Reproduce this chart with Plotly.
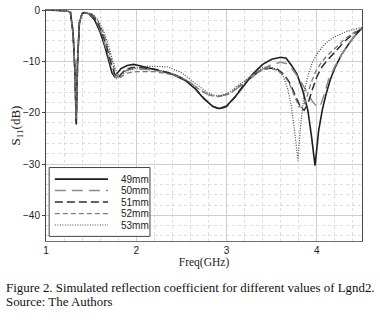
import plotly.graph_objects as go

# Lgnd2 values and simulated S11 curves
labels = ["49mm", "50mm", "51mm", "52mm", "53mm"]

f_49 = [1.0, 1.15, 1.22, 1.27, 1.30, 1.32, 1.335, 1.35, 1.37, 1.40, 1.43, 1.48, 1.54, 1.60, 1.65, 1.70, 1.73, 1.76,
        1.79, 1.83, 1.90, 1.97, 2.05, 2.2, 2.4, 2.55, 2.65, 2.75, 2.85, 2.92, 3.0, 3.1, 3.2, 3.3, 3.4, 3.5, 3.6,
        3.66, 3.72, 3.78, 3.84, 3.90, 3.94, 3.98, 4.02, 4.06, 4.10, 4.15, 4.20, 4.27, 4.35, 4.42, 4.5]
s_49 = [0.0, -0.05, -0.15, -0.4, -4.5, -12.0, -22.3, -10.0, -2.5, -0.7, -0.5, -0.8, -2.0, -4.3, -7.0, -10.2, -12.2, -13.0,
        -12.4, -11.4, -10.8, -10.6, -10.9, -11.6, -12.5, -13.8, -15.3, -17.3, -18.8, -19.2, -18.7, -16.8, -14.5, -12.3, -10.6, -9.6, -9.2,
        -9.4, -10.8, -12.5, -15.5, -19.5, -24.5, -30.3, -23.5, -19.5, -16.5, -13.5, -11.3, -8.8, -6.7, -5.0, -3.6]

f_50 = [1.0, 1.15, 1.22, 1.27, 1.30, 1.32, 1.335, 1.35, 1.37, 1.40, 1.43, 1.49, 1.55, 1.61, 1.66, 1.71, 1.75, 1.78,
        1.81, 1.86, 1.93, 2.0, 2.2, 2.4, 2.55, 2.7, 2.8, 2.88, 2.95, 3.05, 3.2, 3.3, 3.4, 3.5, 3.6, 3.66, 3.72,
        3.8, 3.88, 3.95, 4.0, 4.04, 4.08, 4.13, 4.2, 4.27, 4.35, 4.42, 4.5]
s_50 = [0.0, -0.05, -0.15, -0.4, -4.3, -11.5, -21.0, -9.5, -2.4, -0.7, -0.5, -0.8, -2.0, -4.2, -6.9, -10.0, -12.3, -13.3,
        -12.6, -11.9, -11.6, -11.5, -11.7, -12.4, -13.5, -15.5, -16.5, -16.8, -16.7, -16.1, -14.2, -12.8, -11.5, -10.6, -10.2, -10.4, -11.3,
        -13.3, -15.8, -17.8, -18.8, -18.6, -16.5, -13.5, -11.0, -8.8, -6.6, -5.0, -3.7]

f_51 = [1.0, 1.15, 1.22, 1.27, 1.30, 1.32, 1.335, 1.35, 1.37, 1.40, 1.43, 1.50, 1.56, 1.62, 1.67, 1.72, 1.76, 1.80,
        1.83, 1.88, 1.95, 2.02, 2.2, 2.4, 2.55, 2.65, 2.75, 2.85, 2.92, 3.0, 3.1, 3.2, 3.3, 3.4, 3.48, 3.56, 3.64,
        3.7, 3.76, 3.82, 3.86, 3.9, 3.95, 4.0, 4.06, 4.12, 4.2, 4.3, 4.4, 4.5]
s_51 = [0.0, -0.05, -0.15, -0.4, -4.4, -11.8, -21.8, -9.8, -2.5, -0.7, -0.5, -0.8, -2.0, -4.3, -7.0, -10.2, -12.4, -13.2,
        -12.5, -11.6, -11.2, -11.2, -11.5, -12.4, -13.7, -15.2, -17.2, -18.8, -19.3, -18.8, -16.8, -14.3, -12.6, -11.6, -11.3, -11.5, -12.6,
        -14.2, -16.6, -19.0, -19.5, -18.3, -15.5, -13.0, -11.0, -9.7, -8.2, -6.2, -4.7, -3.6]

f_52 = [1.0, 1.15, 1.22, 1.27, 1.30, 1.32, 1.335, 1.35, 1.37, 1.40, 1.43, 1.51, 1.57, 1.63, 1.68, 1.73, 1.77, 1.81,
        1.84, 1.9, 2.0, 2.2, 2.4, 2.55, 2.7, 2.8, 2.88, 2.95, 3.05, 3.1, 3.2, 3.3, 3.4, 3.48, 3.56, 3.64, 3.7,
        3.76, 3.8, 3.84, 3.88, 3.93, 3.98, 4.05, 4.12, 4.2, 4.3, 4.4, 4.5]
s_52 = [0.0, -0.05, -0.15, -0.4, -4.3, -11.6, -21.2, -9.6, -2.4, -0.7, -0.5, -0.8, -2.0, -4.2, -6.9, -10.0, -12.3, -13.4,
        -12.9, -12.3, -12.0, -12.0, -12.6, -13.6, -15.5, -16.5, -16.9, -16.8, -16.2, -15.3, -14.0, -12.5, -11.6, -11.4, -11.7, -12.8, -14.5,
        -17.0, -18.8, -19.0, -17.5, -14.5, -12.2, -10.2, -8.8, -7.5, -5.8, -4.5, -3.5]

f_53 = [1.0, 1.15, 1.22, 1.27, 1.30, 1.32, 1.335, 1.35, 1.37, 1.40, 1.43, 1.52, 1.58, 1.64, 1.69, 1.74, 1.78, 1.82,
        1.86, 1.93, 2.0, 2.1, 2.25, 2.35, 2.5, 2.65, 2.78, 2.88, 2.95, 3.05, 3.1, 3.2, 3.3, 3.4, 3.48, 3.56, 3.63,
        3.68, 3.72, 3.76, 3.79, 3.82, 3.86, 3.9, 3.95, 4.0, 4.06, 4.12, 4.2, 4.3, 4.4, 4.5]
s_53 = [0.0, -0.05, -0.15, -0.4, -4.2, -11.2, -20.5, -9.3, -2.3, -0.7, -0.5, -0.8, -2.0, -4.2, -6.8, -9.9, -12.1, -13.0,
        -12.3, -11.6, -11.3, -11.0, -11.0, -11.1, -12.2, -14.2, -16.0, -16.7, -16.6, -15.9, -15.0, -13.8, -12.3, -11.2, -11.0, -11.6, -13.0,
        -15.5, -19.0, -24.5, -29.3, -22.5, -16.0, -12.8, -10.2, -8.6, -7.2, -6.1, -5.2, -4.4, -3.8, -3.4]

freqs = [f_49, f_50, f_51, f_52, f_53]
s11 = [s_49, s_50, s_51, s_52, s_53]

colors = ["#1e1e1e", "#8c8c8c", "#2e2e2e", "#7a7a7a", "#4a4a4a"]
dashes = ["solid", "11px,6px", "8px,4px", "5px,3px", "1px,1.5px"]
widths = [1.6, 1.5, 1.5, 1.3, 1.2]

fig = go.Figure()
for f, s, name, c, d, w in zip(freqs, s11, labels, colors, dashes, widths):
    fig.add_trace(go.Scatter(x=f, y=s, mode="lines", name=name,
                             line=dict(color=c, dash=d, width=w), showlegend=False))

tick_font = dict(family="Liberation Sans, Arial", size=10, color="#222")
serif = "Liberation Serif, Times New Roman"
fig.update_layout(
    width=380, height=323,
    margin=dict(l=46, r=18, t=10, b=82),
    paper_bgcolor="white", plot_bgcolor="white",
    xaxis=dict(
        range=[1, 4.5], tickvals=[1, 2, 3, 4], tickfont=tick_font, automargin=False,
        showgrid=True, gridcolor="#cfcfcf", gridwidth=1, zeroline=False,
        showline=True, linecolor="#6e6e6e", mirror=True, ticks="",
        minor=dict(dtick=0.2, showgrid=True, gridcolor="#dcdcdc", griddash="dot"),
        title=dict(text="Freq(GHz)", font=dict(family=serif, size=11.5, color="#222"), standoff=2),
    ),
    yaxis=dict(
        range=[-45, 0], tickvals=[0, -10, -20, -30, -40], tickfont=tick_font, automargin=False,
        showgrid=True, gridcolor="#cfcfcf", gridwidth=1, zeroline=False,
        showline=True, linecolor="#444", mirror=True, ticks="outside", ticklen=3, tickcolor="#444",
        minor=dict(dtick=2, showgrid=True, gridcolor="#dcdcdc", griddash="dot"),
    ),
)

# y title as a rotated annotation so it sits where the original has it
fig.add_annotation(xref="paper", yref="paper", x=-0.092, y=0.5, text="S<sub>11</sub>(dB)", textangle=-90,
                   showarrow=False, xanchor="center", yanchor="middle",
                   font=dict(family=serif, size=13, color="#222"))

# legend box drawn by hand so that the compact row spacing of the original is kept
lx0, lx1, ly_top, row_h = 0.010, 0.329, 0.318, 0.0497
fig.add_shape(type="rect", xref="paper", yref="paper", x0=lx0, x1=lx1, y0=ly_top - 0.298, y1=ly_top,
              line=dict(color="#444", width=1), fillcolor="white")
for i, (name, c, d, w) in enumerate(zip(labels, colors, dashes, widths)):
    yy = ly_top - 0.05 - i * row_h
    fig.add_shape(type="line", xref="paper", yref="paper", x0=0.028, x1=0.196, y0=yy, y1=yy,
                  line=dict(color=c, dash=d, width=w))
    fig.add_annotation(xref="paper", yref="paper", x=0.232, y=yy, text=name, showarrow=False,
                       xanchor="left", yanchor="middle", font=dict(family="Liberation Sans, Arial", size=10, color="#222"))

# caption below the chart
cap_font = dict(family=serif, size=12.9, color="#111")
fig.add_annotation(xref="paper", yref="paper", x=-0.133, y=-0.205, xanchor="left", yanchor="middle", showarrow=False,
                   text="Figure 2. Simulated reflection coefficient for different values of Lgnd2.", font=cap_font)
fig.add_annotation(xref="paper", yref="paper", x=-0.133, y=-0.262, xanchor="left", yanchor="middle", showarrow=False,
                   text="Source: The Authors", font=cap_font)

# the page body has a default 8px margin; drop it so the figure fills the window
fig.write_html("out.html", config={"displayModeBar": False},
               post_script="document.body.style.margin='0';")
